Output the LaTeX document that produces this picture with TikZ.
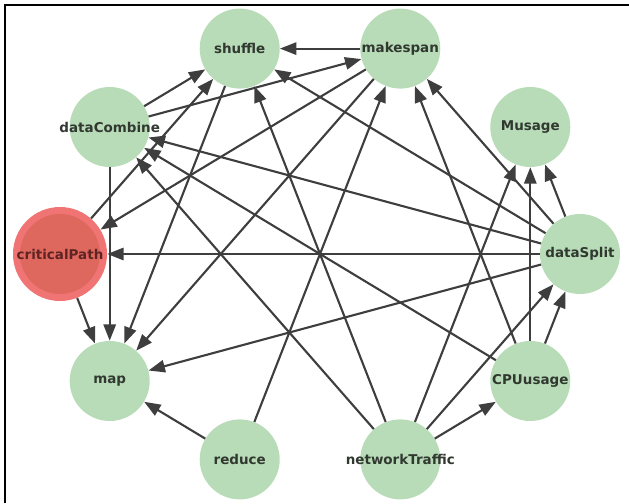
\documentclass[tikz,border=0pt]{standalone}
\usepackage{fontspec}
\setmainfont{DejaVu Sans}
\usetikzlibrary{arrows.meta}

\definecolor{nodegreen}{RGB}{184,220,184}
\definecolor{critouter}{RGB}{240,116,116}
\definecolor{critinner}{RGB}{222,104,94}
\definecolor{edgegray}{RGB}{62,62,62}
\definecolor{labelgray}{RGB}{48,56,48}
\definecolor{critlabel}{RGB}{95,35,35}

\begin{document}
\begin{tikzpicture}[x=0.03cm, y=0.03cm,
	task/.style={circle, fill=nodegreen, minimum size=2.4cm, inner sep=0pt,
		label={[text=labelgray, font=\fontsize{11.5}{13}\selectfont\bfseries]center:#1}},
	crit/.style={circle, fill=critouter, minimum size=2.82cm, inner sep=0pt},
	dep/.style={draw=edgegray, line width=1.8pt, -{Triangle[length=14pt, width=10.5pt]}}]

	\useasboundingbox (-320,-249) rectangle (309,254);
	\draw [line width=1.2pt] (-315,-249) -- (-315,249) -- (309,249);

	\node [task=dataSplit] (dataSplit) at (260, 0) {};
	\node [task=Musage] (Musage) at (210.3, 127) {};
	\node [task=makespan] (makespan) at (80.3, 205.4) {};
	\node [task=shuffle] (shuffle) at (-80.3, 205.4) {};
	\node [task=dataCombine] (dataCombine) at (-210.3, 127) {};
	\node [crit] (criticalPath) at (-260, 0) {};
	\node [task=map] (map) at (-210.3, -127) {};
	\node [task=reduce] (reduce) at (-80.3, -205.4) {};
	\node [task=networkTraffic] (networkTraffic) at (80.3, -205.4) {};
	\node [task=CPUusage] (CPUusage) at (210.3, -127) {};

	% inner disc of the highlighted node
	\fill [critinner] (criticalPath) circle (40);
	\node [text=critlabel, font=\fontsize{11.5}{13}\selectfont\bfseries] (critText) at (criticalPath) {criticalPath};

	\draw [dep] (makespan) -- (shuffle);
	\draw [dep] (dataCombine) -- (shuffle);
	\draw [dep] (dataCombine) -- (makespan);
	\draw [dep] (dataCombine) -- (map);
	\draw [dep] (criticalPath) -- (shuffle);
	\draw [dep] (criticalPath) -- (map);
	\draw [dep] (makespan) -- (criticalPath);
	\draw [dep] (makespan) -- (map);
	\draw [dep] (shuffle) -- (map);

	\draw [dep] (dataSplit) -- (map);
	\draw [dep] (dataSplit) -- (criticalPath);
	\draw [dep] (dataSplit) -- (dataCombine);
	\draw [dep] (dataSplit) -- (shuffle);
	\draw [dep] (dataSplit) -- (makespan);
	\draw [dep] (dataSplit) -- (Musage);

	\draw [dep] (reduce) -- (map);
	\draw [dep] (reduce) -- (makespan);

	\draw [dep] (networkTraffic) -- (shuffle);
	\draw [dep] (networkTraffic) -- (dataCombine);
	\draw [dep] (networkTraffic) -- (Musage);
	\draw [dep] (networkTraffic) -- (dataSplit);
	\draw [dep] (networkTraffic) -- (CPUusage);

	\draw [dep] (CPUusage) -- (dataSplit);
	\draw [dep] (CPUusage) -- (Musage);
	\draw [dep] (CPUusage) -- (makespan);
	\draw [dep] (CPUusage) -- (dataCombine);
\end{tikzpicture}
\end{document}
